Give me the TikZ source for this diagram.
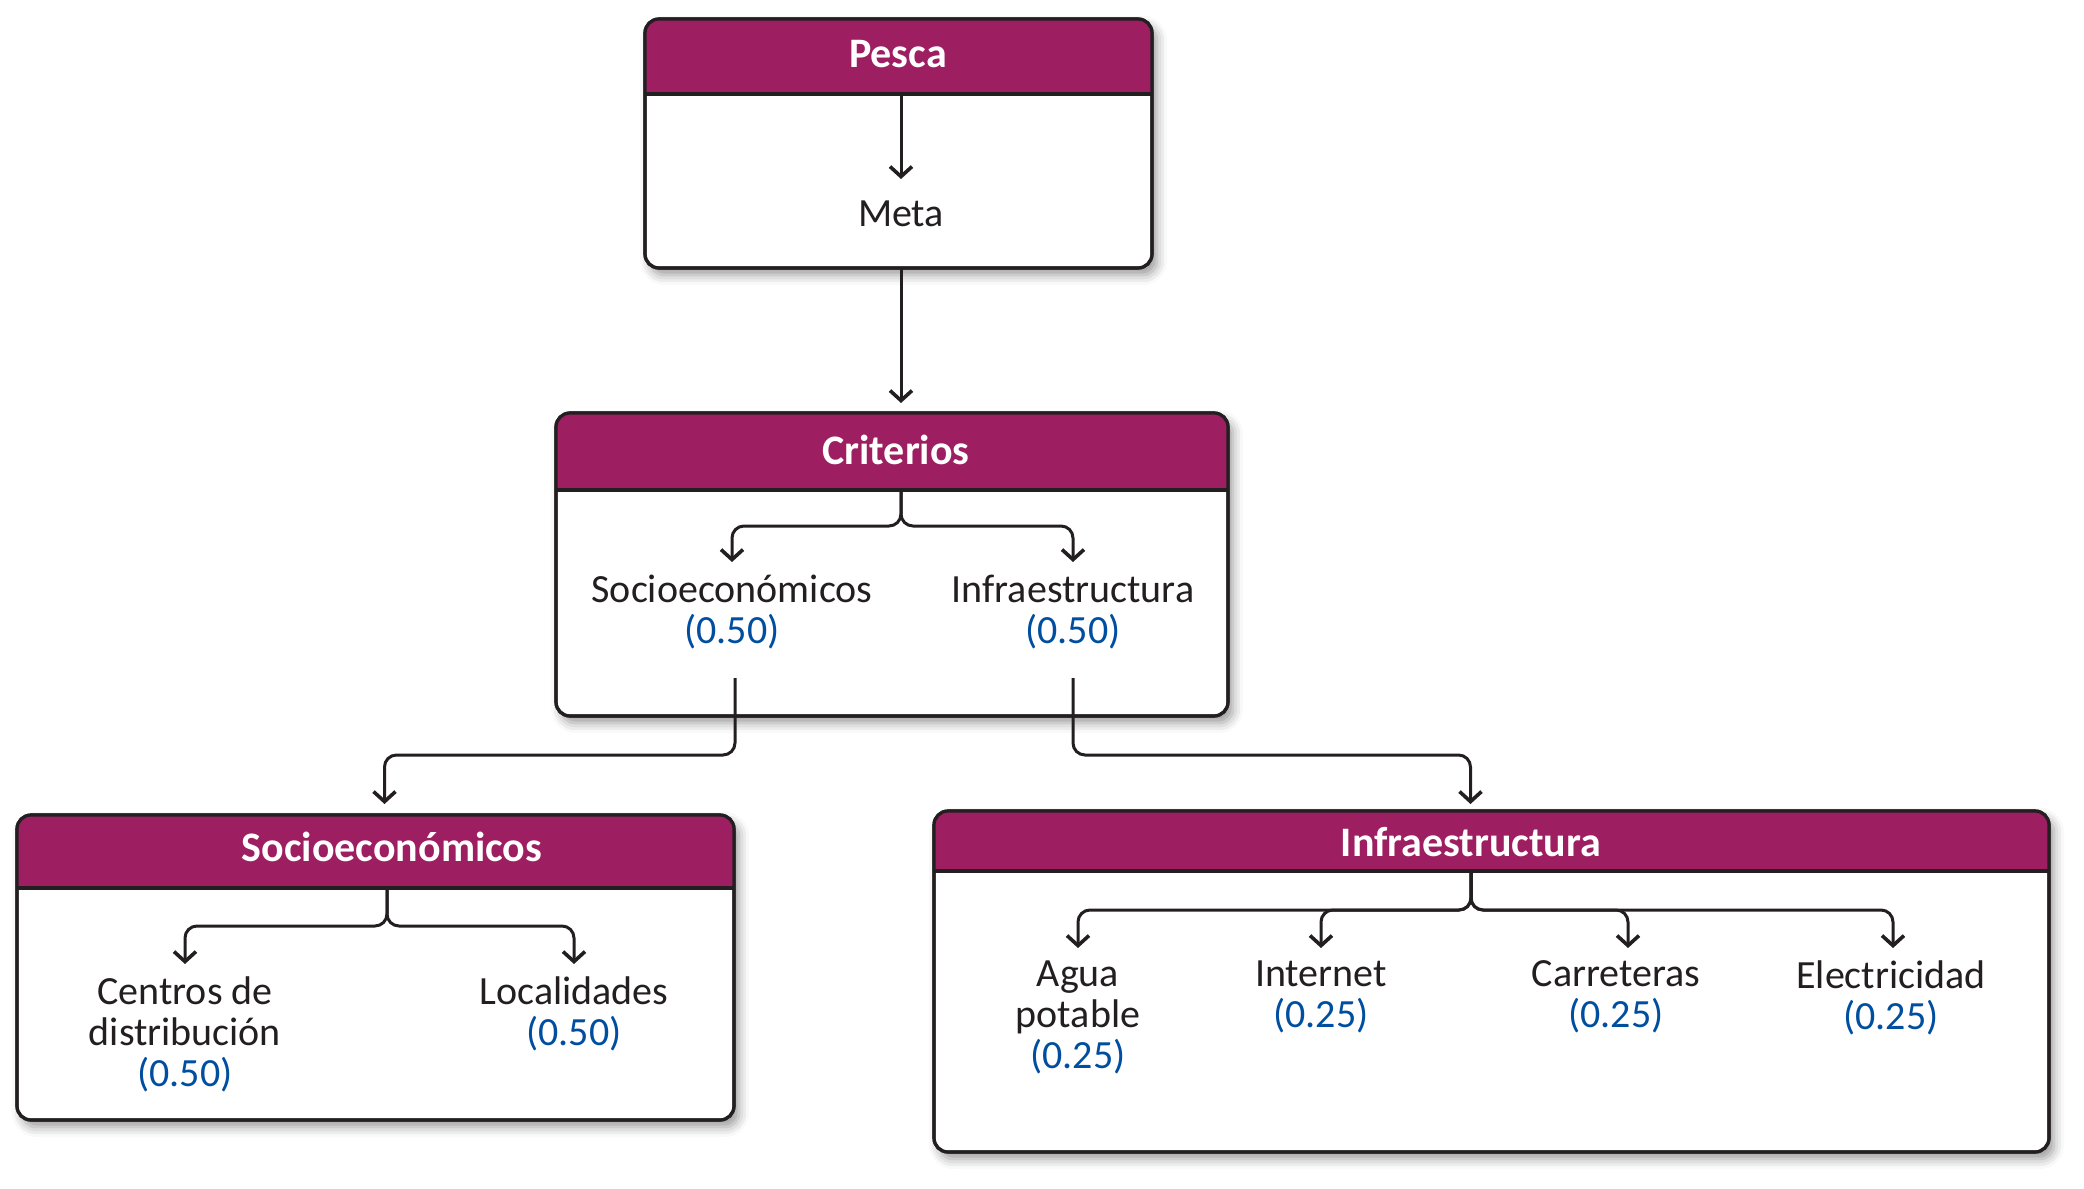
\documentclass[tikz,border=0pt]{standalone}
\usepackage{fontspec}
\setmainfont{Carlito}
\usetikzlibrary{arrows.meta,shadows.blur,fit}
\definecolor{hdr}{RGB}{158,30,98}
\definecolor{wblue}{RGB}{0,78,160}
\definecolor{ink}{RGB}{35,31,32}
\tikzset{
  boxshape/.style={draw=ink, line width=1.6pt, rounded corners=7pt, fill=white, inner sep=0pt, outer sep=0pt,
    blur shadow={shadow xshift=2.5pt, shadow yshift=-3.5pt, shadow blur radius=5pt, shadow opacity=40}},
  ttl/.style={font=\fontsize{21}{22}\selectfont\bfseries, text=white, inner sep=0pt},
  txt/.style={font=\fontsize{20}{20.5}\selectfont, text=ink, align=center, inner sep=6.5pt, outer sep=0pt, anchor=north},
  conn/.style={draw=ink, line width=1.5pt, rounded corners=6pt},
  tip/.style={-{Straight Barb[length=5pt, width=11pt, line width=1.8pt]}}
}
\newcommand\mkbox[6]{%
  \coordinate (#1a) at (#2,#3); \coordinate (#1b) at (#4,#5);
  \node[boxshape, fit=(#1a)(#1b)] (#1) {};
  \begin{scope}
    \clip[rounded corners=7pt] (#1a) rectangle (#1b);
    \fill[hdr] (#1a) rectangle (#4,#6);
  \end{scope}
  \draw[ink, line width=1.6pt, rounded corners=7pt] (#1a) rectangle (#1b);
  \draw[ink, line width=1.6pt] (#2,#6) -- (#4,#6);
}
\newcommand\wt[1]{\\\textcolor{wblue}{(#1)}}
\begin{document}
\begin{tikzpicture}[x=0.5pt,y=-0.5pt]
\useasboundingbox (0,0) rectangle (2084,1189);
% boxes
\mkbox{pescabox}{645}{19}{1152}{268}{94}
\mkbox{critbox}{556}{413}{1228}{716}{490}
\mkbox{sociobox}{17}{815}{734}{1120}{888}
\mkbox{infrabox}{934}{811}{2049}{1152}{871}
% titles
\node[ttl] (pescat) at (898,54) {Pesca};
\node[ttl] (critt) at (896,450) {Criterios};
\node[ttl] (sociot) at (392,847) {Socioeconómicos};
\node[ttl] (infrat) at (1471,842) {Infraestructura};
% header exits
\coordinate (pescahb) at (901,94);
\coordinate (crithb) at (901,490);
\coordinate (sociohb) at (387,888);
\coordinate (infrahb) at (1471,871);
% texts
\node[txt, inner sep=11pt] (meta) at (901,179) {Meta};
\node[txt] (critsoc) at (732,562) {Socioeconómicos\wt{0.50}};
\node[txt] (critinf) at (1073,562) {Infraestructura\wt{0.50}};
\node[txt] (centros) at (185,964) {Centros de\\distribución\wt{0.50}};
\node[txt] (local) at (574,964) {Localidades\wt{0.50}};
\node[txt] (agua) at (1078,948) {Agua\\potable\wt{0.25}};
\node[txt] (internet) at (1321,948) {Internet\wt{0.25}};
\node[txt] (carre) at (1616,948) {Carreteras\wt{0.25}};
\node[txt] (elec) at (1891,948) {Electricidad\wt{0.25}};
\coordinate (csout) at (735,678);
\coordinate (ciout) at (1073,678);
% connectors
\draw[conn,tip] (pescahb) -- (meta.north);
\draw[conn,tip] (pescabox.south -| pescahb) -- ([yshift=5pt]critbox.north -| pescahb);
\draw[conn,tip] (crithb) |- ([yshift=18pt]critsoc.north) -- (critsoc.north);
\draw[conn,tip] (crithb) |- ([yshift=18pt]critinf.north) -- (critinf.north);
\draw[conn,tip] (csout) -- (735,755) -| ([xshift=4.5pt,yshift=5.5pt]sociobox.north);
\draw[conn,tip] (ciout) -- (1073,755) -| ([xshift=-10.5pt,yshift=3.5pt]infrabox.north);
\draw[conn,tip] (sociohb) |- ([yshift=19pt]centros.north) -- (centros.north);
\draw[conn,tip] (sociohb) |- ([yshift=19pt]local.north) -- (local.north);
\draw[conn,tip] (infrahb) |- ([yshift=19pt]agua.north) -- (agua.north);
\draw[conn,tip] (infrahb) |- ([yshift=19pt]internet.north) -- (internet.north);
\draw[conn,tip] (infrahb) |- ([xshift=6pt,yshift=19pt]carre.north) -- ([xshift=6pt]carre.north);
\draw[conn,tip] (infrahb) |- ([xshift=1pt,yshift=19pt]elec.north) -- ([xshift=1pt]elec.north);
\end{tikzpicture}
\end{document}
